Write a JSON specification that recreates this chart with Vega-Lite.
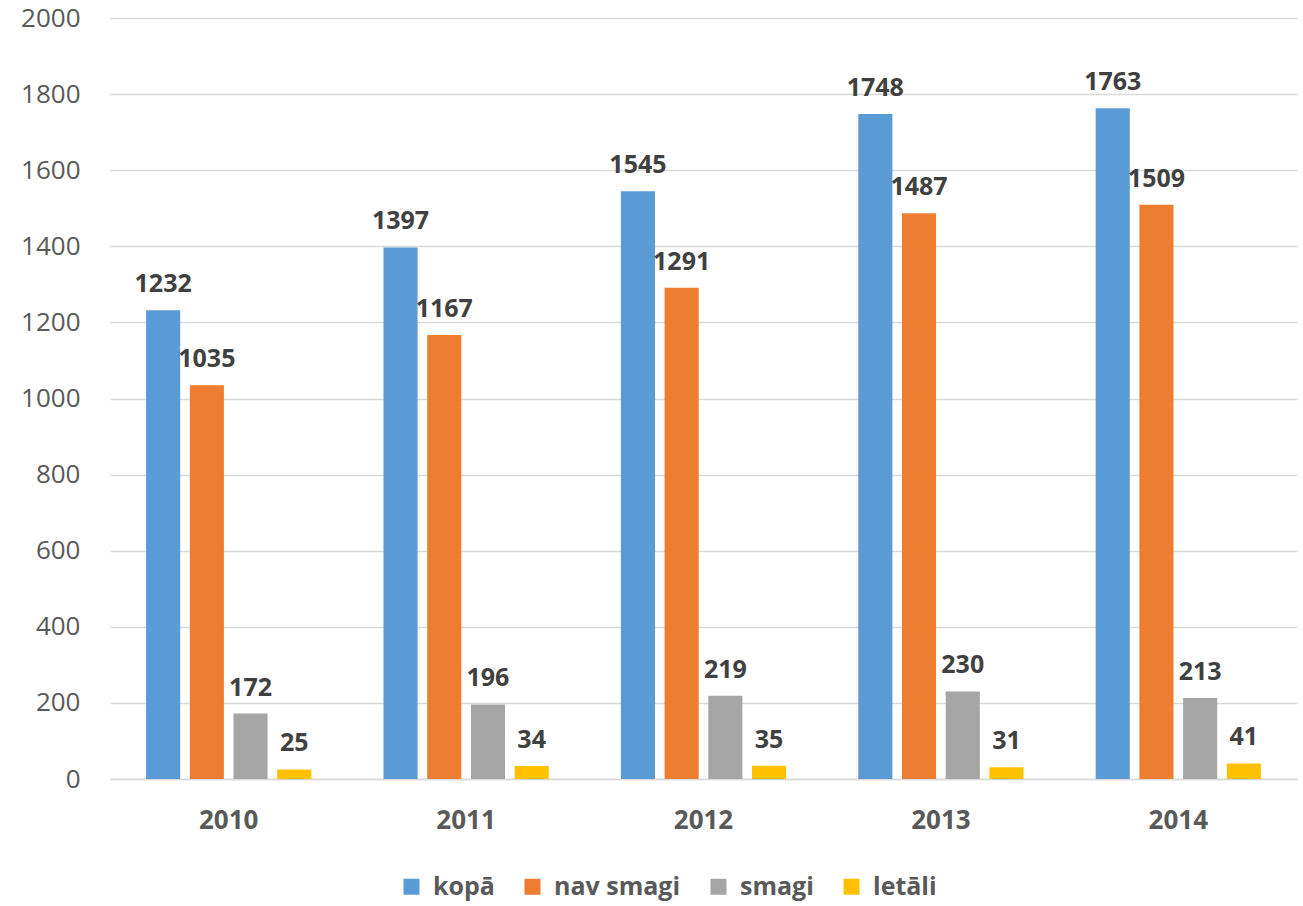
{
  "$schema": "https://vega.github.io/schema/vega-lite/v6.json",
  "width": 1187,
  "height": 761,
  "autosize": "none",
  "padding": {"left": 110, "top": 18, "right": 6, "bottom": 127},
  "background": "white",
  "config": {"view": {"stroke": null}, "font": "Open Sans"},
  "data": {
    "values": [
      {"year": "2010", "series": "kopā", "value": 1232},
      {"year": "2010", "series": "nav smagi", "value": 1035},
      {"year": "2010", "series": "smagi", "value": 172},
      {"year": "2010", "series": "letāli", "value": 25},
      {"year": "2011", "series": "kopā", "value": 1397},
      {"year": "2011", "series": "nav smagi", "value": 1167},
      {"year": "2011", "series": "smagi", "value": 196},
      {"year": "2011", "series": "letāli", "value": 34},
      {"year": "2012", "series": "kopā", "value": 1545},
      {"year": "2012", "series": "nav smagi", "value": 1291},
      {"year": "2012", "series": "smagi", "value": 219},
      {"year": "2012", "series": "letāli", "value": 35},
      {"year": "2013", "series": "kopā", "value": 1748},
      {"year": "2013", "series": "nav smagi", "value": 1487},
      {"year": "2013", "series": "smagi", "value": 230},
      {"year": "2013", "series": "letāli", "value": 31},
      {"year": "2014", "series": "kopā", "value": 1763},
      {"year": "2014", "series": "nav smagi", "value": 1509},
      {"year": "2014", "series": "smagi", "value": 213},
      {"year": "2014", "series": "letāli", "value": 41}
    ]
  },
  "encoding": {
    "x": {
      "field": "year", "type": "nominal",
      "scale": {"paddingInner": 0.304, "paddingOuter": 0.152},
      "axis": {
        "title": null, "labelAngle": 0, "ticks": false,
        "domain": true, "domainColor": "#d9d9d9", "domainWidth": 1.5,
        "labelFont": "Open Sans", "labelFontSize": 26, "labelFontWeight": "bold",
        "labelColor": "#595959", "labelPadding": 28
      }
    },
    "xOffset": {
      "field": "series", "type": "nominal",
      "sort": ["kopā", "nav smagi", "smagi", "letāli"],
      "scale": {"paddingInner": 0.22, "paddingOuter": 0}
    },
    "y": {
      "field": "value", "type": "quantitative",
      "scale": {"domain": [0, 2000], "nice": false},
      "axis": {
        "title": null, "values": [0,200,400,600,800,1000,1200,1400,1600,1800,2000],
        "format": "d", "labelOverlap": false,
        "ticks": false, "domain": false,
        "grid": true, "gridColor": "#d9d9d9", "gridWidth": 1.5,
        "labelFont": "Open Sans", "labelFontSize": 26, "labelColor": "#595959",
        "labelPadding": 30
      }
    }
  },
  "layer": [
    {
      "mark": {"type": "bar"},
      "encoding": {
        "color": {
          "field": "series", "type": "nominal",
          "sort": ["kopā", "nav smagi", "smagi", "letāli"],
          "scale": {"domain": ["kopā", "nav smagi", "smagi", "letāli"], "range": ["#5B9BD5", "#ED7D31", "#A5A5A5", "#FFC000"]},
          "legend": {
            "title": null, "orient": "none", "direction": "horizontal",
            "legendX": 289, "legendY": 856,
            "symbolType": "square", "symbolSize": 256, "symbolStrokeWidth": 0,
            "labelFont": "Open Sans", "labelFontSize": 25, "labelFontWeight": "bold",
            "labelColor": "#595959", "labelOffset": 9, "columnPadding": 25,
            "labelLimit": 300
          }
        }
      }
    },
    {
      "mark": {"type": "text", "baseline": "alphabetic", "dy": -18, "font": "Open Sans", "fontSize": 25, "fontWeight": "bold", "color": "#404040"},
      "encoding": {
        "text": {"field": "value", "type": "quantitative", "format": "d"}
      }
    }
  ]
}
